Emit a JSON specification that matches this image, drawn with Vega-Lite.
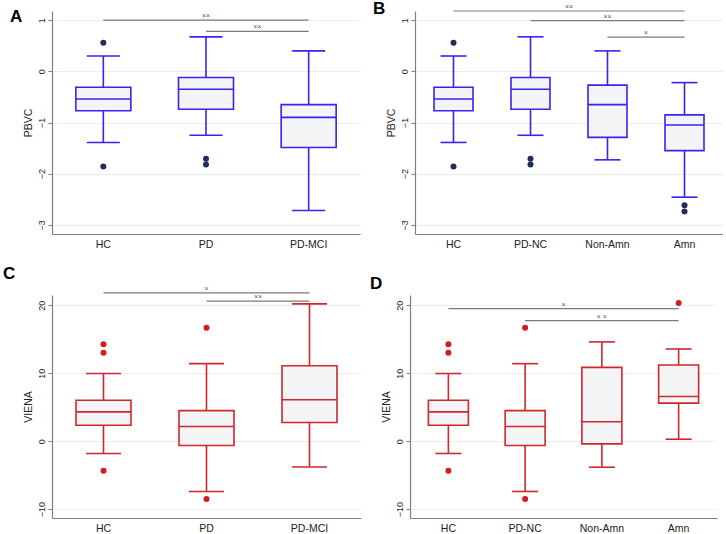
{
  "$schema": "https://vega.github.io/schema/vega-lite/v6.json",
  "padding": {"left": 3, "top": 0, "right": 0, "bottom": 0},
  "background": "white",
  "datasets": {
    "boxA": [
      {"group": "HC", "lower": -1.39, "q1": -0.77, "median": -0.54, "q3": -0.31, "upper": 0.30},
      {"group": "PD", "lower": -1.25, "q1": -0.74, "median": -0.35, "q3": -0.12, "upper": 0.675},
      {"group": "PD-MCI", "lower": -2.72, "q1": -1.49, "median": -0.90, "q3": -0.65, "upper": 0.40}
    ],
    "outA": [
      {"group": "HC", "value": 0.56}, {"group": "HC", "value": -1.86},
      {"group": "PD", "value": -1.71}, {"group": "PD", "value": -1.82}
    ],
    "sigA": [
      {"from": "HC", "to": "PD-MCI", "level": 1.0, "mid": "PD", "pos": 0.5, "label": "××"},
      {"from": "PD", "to": "PD-MCI", "level": 0.78, "mid": "PD", "pos": 1, "label": "××"}
    ],
    "boxB": [
      {"group": "HC", "lower": -1.39, "q1": -0.77, "median": -0.54, "q3": -0.31, "upper": 0.30},
      {"group": "PD-NC", "lower": -1.25, "q1": -0.74, "median": -0.35, "q3": -0.12, "upper": 0.675},
      {"group": "Non-Amn", "lower": -1.73, "q1": -1.29, "median": -0.65, "q3": -0.27, "upper": 0.40},
      {"group": "Amn", "lower": -2.46, "q1": -1.55, "median": -1.05, "q3": -0.85, "upper": -0.22}
    ],
    "outB": [
      {"group": "HC", "value": 0.56}, {"group": "HC", "value": -1.86},
      {"group": "PD-NC", "value": -1.71}, {"group": "PD-NC", "value": -1.82},
      {"group": "Amn", "value": -2.62}, {"group": "Amn", "value": -2.74}
    ],
    "sigB": [
      {"from": "HC", "to": "Amn", "level": 1.18, "mid": "PD-NC", "pos": 1, "label": "××"},
      {"from": "PD-NC", "to": "Amn", "level": 0.99, "mid": "Non-Amn", "pos": 0.5, "label": "××"},
      {"from": "Non-Amn", "to": "Amn", "level": 0.67, "mid": "Non-Amn", "pos": 1, "label": "×"}
    ],
    "boxC": [
      {"group": "HC", "lower": -1.81, "q1": 2.35, "median": 4.31, "q3": 6.03, "upper": 9.95},
      {"group": "PD", "lower": -7.4, "q1": -0.64, "median": 2.16, "q3": 4.5, "upper": 11.4},
      {"group": "PD-MCI", "lower": -3.8, "q1": 2.75, "median": 6.1, "q3": 11.1, "upper": 20.2}
    ],
    "outC": [
      {"group": "HC", "value": 14.26}, {"group": "HC", "value": 12.99}, {"group": "HC", "value": -4.36},
      {"group": "PD", "value": 16.7}, {"group": "PD", "value": -8.5}
    ],
    "sigC": [
      {"from": "HC", "to": "PD-MCI", "level": 21.8, "mid": "PD", "pos": 0.5, "label": "×"},
      {"from": "PD", "to": "PD-MCI", "level": 20.6, "mid": "PD", "pos": 1, "label": "××"}
    ],
    "boxD": [
      {"group": "HC", "lower": -1.81, "q1": 2.35, "median": 4.31, "q3": 6.03, "upper": 9.95},
      {"group": "PD-NC", "lower": -7.4, "q1": -0.64, "median": 2.16, "q3": 4.5, "upper": 11.4},
      {"group": "Non-Amn", "lower": -3.83, "q1": -0.39, "median": 2.85, "q3": 10.86, "upper": 14.6},
      {"group": "Amn", "lower": 0.29, "q1": 5.6, "median": 6.58, "q3": 11.2, "upper": 13.56}
    ],
    "outD": [
      {"group": "HC", "value": 14.26}, {"group": "HC", "value": 12.99}, {"group": "HC", "value": -4.36},
      {"group": "PD-NC", "value": 16.7}, {"group": "PD-NC", "value": -8.5},
      {"group": "Amn", "value": 20.34}
    ],
    "sigD": [
      {"from": "HC", "to": "Amn", "level": 19.5, "mid": "PD-NC", "pos": 1, "label": "×"},
      {"from": "PD-NC", "to": "Amn", "level": 17.74, "mid": "Non-Amn", "pos": 0.5, "label": "× ×"}
    ]
  },
  "vconcat": [
    {
      "hconcat": [
        {
          "width": 308, "height": 223,
          "title": {"text": "A", "dx": -42, "offset": -15},
          "layer": [
            {"data": {"name": "boxA"}, "mark": {"type": "rule", "color": "#3b22f2", "strokeWidth": 1.6},
             "encoding": {
               "x": {"field": "group", "type": "nominal", "scale": {"domain": ["HC", "PD", "PD-MCI"], "paddingInner": 0, "paddingOuter": 0}},
               "y": {"field": "lower", "type": "quantitative", "title": "PBVC", "scale": {"domain": [-3.18, 1.18], "nice": false, "zero": false}, "axis": {"values": [-3, -2, -1, 0, 1], "titlePadding": 4}},
               "y2": {"field": "upper"}}},
            {"data": {"name": "boxA"}, "mark": {"type": "bar", "size": 55, "fill": "#f3f4f6", "stroke": "#3b22f2", "strokeWidth": 1.6},
             "encoding": {"x": {"field": "group", "type": "nominal"}, "y": {"field": "q1", "type": "quantitative", "title": "PBVC"}, "y2": {"field": "q3"}}},
            {"data": {"name": "boxA"}, "mark": {"type": "tick", "size": 55, "thickness": 1.6, "color": "#3b22f2", "opacity": 1},
             "encoding": {"x": {"field": "group", "type": "nominal"}, "y": {"field": "median", "type": "quantitative", "title": "PBVC"}}},
            {"data": {"name": "boxA"}, "mark": {"type": "tick", "size": 33, "thickness": 1.6, "color": "#3b22f2", "opacity": 1},
             "encoding": {"x": {"field": "group", "type": "nominal"}, "y": {"field": "lower", "type": "quantitative", "title": "PBVC"}}},
            {"data": {"name": "boxA"}, "mark": {"type": "tick", "size": 33, "thickness": 1.6, "color": "#3b22f2", "opacity": 1},
             "encoding": {"x": {"field": "group", "type": "nominal"}, "y": {"field": "upper", "type": "quantitative", "title": "PBVC"}}},
            {"data": {"name": "outA"}, "mark": {"type": "point", "filled": true, "size": 36, "color": "#1f2d5c", "opacity": 1},
             "encoding": {"x": {"field": "group", "type": "nominal"}, "y": {"field": "value", "type": "quantitative", "title": "PBVC"}}},
            {"data": {"name": "sigA"}, "mark": {"type": "rule", "color": "#7a7a7a", "strokeWidth": 1.2},
             "encoding": {"x": {"field": "from", "type": "nominal", "bandPosition": 0.5}, "x2": {"field": "to", "bandPosition": 0.5}, "y": {"field": "level", "type": "quantitative", "title": "PBVC"}}},
            {"data": {"name": "sigA"}, "transform": [{"filter": "datum.pos == 0.5"}], "mark": {"type": "text", "fontSize": 7, "fill": "#555555", "baseline": "bottom", "dy": -1},
             "encoding": {"x": {"field": "mid", "type": "nominal", "bandPosition": 0.5}, "y": {"field": "level", "type": "quantitative", "title": "PBVC"}, "text": {"field": "label"}}},
            {"data": {"name": "sigA"}, "transform": [{"filter": "datum.pos == 1"}], "mark": {"type": "text", "fontSize": 7, "fill": "#555555", "baseline": "bottom", "dy": -1},
             "encoding": {"x": {"field": "mid", "type": "nominal", "bandPosition": 1}, "y": {"field": "level", "type": "quantitative", "title": "PBVC"}, "text": {"field": "label"}}}
          ]
        },
        {
          "width": 308, "height": 223,
          "title": {"text": "B", "dx": -42, "offset": -15},
          "layer": [
            {"data": {"name": "boxB"}, "mark": {"type": "rule", "color": "#3b22f2", "strokeWidth": 1.6},
             "encoding": {
               "x": {"field": "group", "type": "nominal", "scale": {"domain": ["HC", "PD-NC", "Non-Amn", "Amn"], "paddingInner": 0, "paddingOuter": 0}},
               "y": {"field": "lower", "type": "quantitative", "title": "PBVC", "scale": {"domain": [-3.18, 1.18], "nice": false, "zero": false}, "axis": {"values": [-3, -2, -1, 0, 1], "titlePadding": 4}},
               "y2": {"field": "upper"}}},
            {"data": {"name": "boxB"}, "mark": {"type": "bar", "size": 39, "fill": "#f3f4f6", "stroke": "#3b22f2", "strokeWidth": 1.6},
             "encoding": {"x": {"field": "group", "type": "nominal"}, "y": {"field": "q1", "type": "quantitative", "title": "PBVC"}, "y2": {"field": "q3"}}},
            {"data": {"name": "boxB"}, "mark": {"type": "tick", "size": 39, "thickness": 1.6, "color": "#3b22f2", "opacity": 1},
             "encoding": {"x": {"field": "group", "type": "nominal"}, "y": {"field": "median", "type": "quantitative", "title": "PBVC"}}},
            {"data": {"name": "boxB"}, "mark": {"type": "tick", "size": 26, "thickness": 1.6, "color": "#3b22f2", "opacity": 1},
             "encoding": {"x": {"field": "group", "type": "nominal"}, "y": {"field": "lower", "type": "quantitative", "title": "PBVC"}}},
            {"data": {"name": "boxB"}, "mark": {"type": "tick", "size": 26, "thickness": 1.6, "color": "#3b22f2", "opacity": 1},
             "encoding": {"x": {"field": "group", "type": "nominal"}, "y": {"field": "upper", "type": "quantitative", "title": "PBVC"}}},
            {"data": {"name": "outB"}, "mark": {"type": "point", "filled": true, "size": 36, "color": "#1f2d5c", "opacity": 1},
             "encoding": {"x": {"field": "group", "type": "nominal"}, "y": {"field": "value", "type": "quantitative", "title": "PBVC"}}},
            {"data": {"name": "sigB"}, "mark": {"type": "rule", "color": "#7a7a7a", "strokeWidth": 1.2},
             "encoding": {"x": {"field": "from", "type": "nominal", "bandPosition": 0.5}, "x2": {"field": "to", "bandPosition": 0.5}, "y": {"field": "level", "type": "quantitative", "title": "PBVC"}}},
            {"data": {"name": "sigB"}, "transform": [{"filter": "datum.pos == 0.5"}], "mark": {"type": "text", "fontSize": 7, "fill": "#555555", "baseline": "bottom", "dy": -1},
             "encoding": {"x": {"field": "mid", "type": "nominal", "bandPosition": 0.5}, "y": {"field": "level", "type": "quantitative", "title": "PBVC"}, "text": {"field": "label"}}},
            {"data": {"name": "sigB"}, "transform": [{"filter": "datum.pos == 1"}], "mark": {"type": "text", "fontSize": 7, "fill": "#555555", "baseline": "bottom", "dy": -1},
             "encoding": {"x": {"field": "mid", "type": "nominal", "bandPosition": 1}, "y": {"field": "level", "type": "quantitative", "title": "PBVC"}, "text": {"field": "label"}}}
          ]
        }
      ],
      "spacing": 55,
      "bounds": "flush"
    },
    {
      "hconcat": [
        {
          "width": 309, "height": 223,
          "title": {"text": "C", "dx": -49, "offset": 2},
          "layer": [
            {"data": {"name": "boxC"}, "mark": {"type": "rule", "color": "#d2262b", "strokeWidth": 1.6},
             "encoding": {
               "x": {"field": "group", "type": "nominal", "scale": {"domain": ["HC", "PD", "PD-MCI"], "paddingInner": 0, "paddingOuter": 0}},
               "y": {"field": "lower", "type": "quantitative", "title": "VIENA", "scale": {"domain": [-11.3, 21.5], "nice": false, "zero": false}, "axis": {"values": [-10, 0, 10, 20], "titlePadding": 4}},
               "y2": {"field": "upper"}}},
            {"data": {"name": "boxC"}, "mark": {"type": "bar", "size": 55, "fill": "#f3f4f6", "stroke": "#d2262b", "strokeWidth": 1.6},
             "encoding": {"x": {"field": "group", "type": "nominal"}, "y": {"field": "q1", "type": "quantitative", "title": "VIENA"}, "y2": {"field": "q3"}}},
            {"data": {"name": "boxC"}, "mark": {"type": "tick", "size": 55, "thickness": 1.6, "color": "#d2262b", "opacity": 1},
             "encoding": {"x": {"field": "group", "type": "nominal"}, "y": {"field": "median", "type": "quantitative", "title": "VIENA"}}},
            {"data": {"name": "boxC"}, "mark": {"type": "tick", "size": 35, "thickness": 1.6, "color": "#d2262b", "opacity": 1},
             "encoding": {"x": {"field": "group", "type": "nominal"}, "y": {"field": "lower", "type": "quantitative", "title": "VIENA"}}},
            {"data": {"name": "boxC"}, "mark": {"type": "tick", "size": 35, "thickness": 1.6, "color": "#d2262b", "opacity": 1},
             "encoding": {"x": {"field": "group", "type": "nominal"}, "y": {"field": "upper", "type": "quantitative", "title": "VIENA"}}},
            {"data": {"name": "outC"}, "mark": {"type": "point", "filled": true, "size": 36, "color": "#d41c1c", "opacity": 1},
             "encoding": {"x": {"field": "group", "type": "nominal"}, "y": {"field": "value", "type": "quantitative", "title": "VIENA"}}},
            {"data": {"name": "sigC"}, "mark": {"type": "rule", "color": "#7a7a7a", "strokeWidth": 1.2},
             "encoding": {"x": {"field": "from", "type": "nominal", "bandPosition": 0.5}, "x2": {"field": "to", "bandPosition": 0.5}, "y": {"field": "level", "type": "quantitative", "title": "VIENA"}}},
            {"data": {"name": "sigC"}, "transform": [{"filter": "datum.pos == 0.5"}], "mark": {"type": "text", "fontSize": 7, "fill": "#555555", "baseline": "bottom", "dy": -1},
             "encoding": {"x": {"field": "mid", "type": "nominal", "bandPosition": 0.5}, "y": {"field": "level", "type": "quantitative", "title": "VIENA"}, "text": {"field": "label"}}},
            {"data": {"name": "sigC"}, "transform": [{"filter": "datum.pos == 1"}], "mark": {"type": "text", "fontSize": 7, "fill": "#555555", "baseline": "bottom", "dy": -1},
             "encoding": {"x": {"field": "mid", "type": "nominal", "bandPosition": 1}, "y": {"field": "level", "type": "quantitative", "title": "VIENA"}, "text": {"field": "label"}}}
          ]
        },
        {
          "width": 307, "height": 223,
          "title": {"text": "D", "dx": -40, "offset": 2},
          "layer": [
            {"data": {"name": "boxD"}, "mark": {"type": "rule", "color": "#d2262b", "strokeWidth": 1.6},
             "encoding": {
               "x": {"field": "group", "type": "nominal", "scale": {"domain": ["HC", "PD-NC", "Non-Amn", "Amn"], "paddingInner": 0, "paddingOuter": 0}},
               "y": {"field": "lower", "type": "quantitative", "title": "VIENA", "scale": {"domain": [-11.3, 21.5], "nice": false, "zero": false}, "axis": {"values": [-10, 0, 10, 20], "titlePadding": 4}},
               "y2": {"field": "upper"}}},
            {"data": {"name": "boxD"}, "mark": {"type": "bar", "size": 40, "fill": "#f3f4f6", "stroke": "#d2262b", "strokeWidth": 1.6},
             "encoding": {"x": {"field": "group", "type": "nominal"}, "y": {"field": "q1", "type": "quantitative", "title": "VIENA"}, "y2": {"field": "q3"}}},
            {"data": {"name": "boxD"}, "mark": {"type": "tick", "size": 40, "thickness": 1.6, "color": "#d2262b", "opacity": 1},
             "encoding": {"x": {"field": "group", "type": "nominal"}, "y": {"field": "median", "type": "quantitative", "title": "VIENA"}}},
            {"data": {"name": "boxD"}, "mark": {"type": "tick", "size": 26, "thickness": 1.6, "color": "#d2262b", "opacity": 1},
             "encoding": {"x": {"field": "group", "type": "nominal"}, "y": {"field": "lower", "type": "quantitative", "title": "VIENA"}}},
            {"data": {"name": "boxD"}, "mark": {"type": "tick", "size": 26, "thickness": 1.6, "color": "#d2262b", "opacity": 1},
             "encoding": {"x": {"field": "group", "type": "nominal"}, "y": {"field": "upper", "type": "quantitative", "title": "VIENA"}}},
            {"data": {"name": "outD"}, "mark": {"type": "point", "filled": true, "size": 36, "color": "#d41c1c", "opacity": 1},
             "encoding": {"x": {"field": "group", "type": "nominal"}, "y": {"field": "value", "type": "quantitative", "title": "VIENA"}}},
            {"data": {"name": "sigD"}, "mark": {"type": "rule", "color": "#7a7a7a", "strokeWidth": 1.2},
             "encoding": {"x": {"field": "from", "type": "nominal", "bandPosition": 0.5}, "x2": {"field": "to", "bandPosition": 0.5}, "y": {"field": "level", "type": "quantitative", "title": "VIENA"}}},
            {"data": {"name": "sigD"}, "transform": [{"filter": "datum.pos == 0.5"}], "mark": {"type": "text", "fontSize": 7, "fill": "#555555", "baseline": "bottom", "dy": -1},
             "encoding": {"x": {"field": "mid", "type": "nominal", "bandPosition": 0.5}, "y": {"field": "level", "type": "quantitative", "title": "VIENA"}, "text": {"field": "label"}}},
            {"data": {"name": "sigD"}, "transform": [{"filter": "datum.pos == 1"}], "mark": {"type": "text", "fontSize": 7, "fill": "#555555", "baseline": "bottom", "dy": -1},
             "encoding": {"x": {"field": "mid", "type": "nominal", "bandPosition": 1}, "y": {"field": "level", "type": "quantitative", "title": "VIENA"}, "text": {"field": "label"}}}
          ]
        }
      ],
      "spacing": 49,
      "bounds": "flush"
    }
  ],
  "spacing": 14,
  "config": {
    "view": {"stroke": null},
    "font": "Liberation Sans",
    "axis": {"domainColor": "#7f7f7f", "domainWidth": 1.2, "gridColor": "#e9eef0", "labelColor": "#222", "titleColor": "#222", "labelFont": "Liberation Sans", "titleFont": "Liberation Sans", "titleFontWeight": "normal"},
    "axisX": {"ticks": false, "grid": false, "labelFontSize": 10.5, "labelPadding": 5, "labelAngle": 0, "title": null},
    "axisY": {"grid": true, "tickSize": 4, "tickColor": "#7f7f7f", "labelFontSize": 9, "labelAngle": 270, "labelAlign": "center", "labelBaseline": "bottom", "labelPadding": 2, "titleFontSize": 10.5},
    "title": {"anchor": "start", "frame": "group", "fontSize": 17, "fontWeight": "bold", "font": "Liberation Sans", "color": "#000"}
  }
}
